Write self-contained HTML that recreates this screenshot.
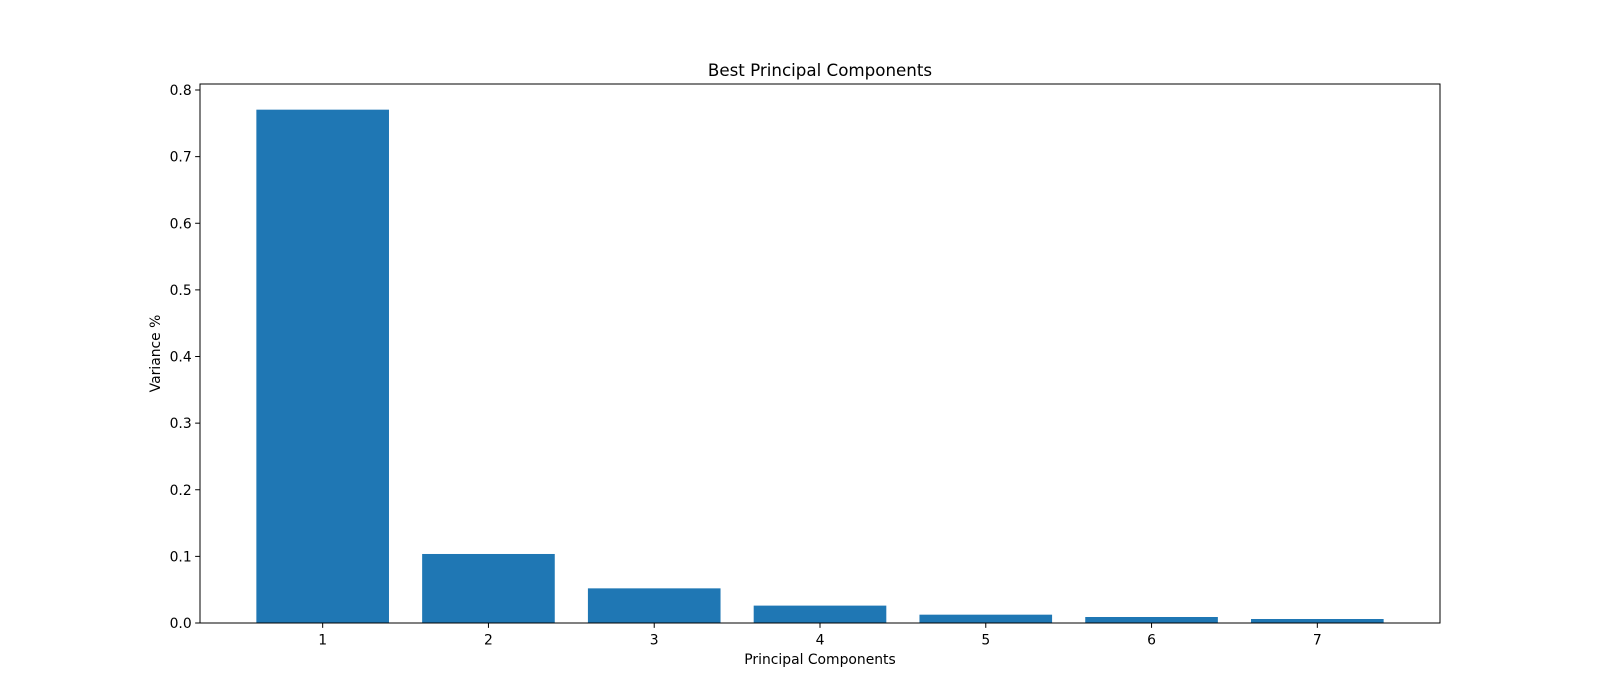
<!DOCTYPE html>
<html><head><meta charset="utf-8"><style>body{margin:0;background:#fff}svg{display:block}text{font-family:"DejaVu Sans","Liberation Sans",sans-serif;fill:#000}</style></head>
<body>
<svg id="chart" width="1600" height="700" xmlns="http://www.w3.org/2000/svg">
<rect width="1600" height="700" fill="#fff"/>
<g id="plot"></g>
</svg>
<script>
const categories = ["1","2","3","4","5","6","7"];
const values = [0.7705, 0.1036, 0.052, 0.0261, 0.0125, 0.009, 0.006];
const yTicks = [0.0,0.1,0.2,0.3,0.4,0.5,0.6,0.7,0.8];
const yTickLabels = ["0.0","0.1","0.2","0.3","0.4","0.5","0.6","0.7","0.8"];

const L=200,R=1440,T=84,B=623;
const n=categories.length;
const xmin=1-0.4-0.05*(n-1+0.8), xmax=n+0.4+0.05*(n-1+0.8);
const ymax=Math.max(...values)*1.05;
const xs=v=>L+(v-xmin)/(xmax-xmin)*(R-L);
const ys=v=>B-v/ymax*(B-T);
const NS="http://www.w3.org/2000/svg";
const g=document.getElementById('plot');
function mk(tag,attrs,txt){const e=document.createElementNS(NS,tag);for(const k in attrs)e.setAttribute(k,attrs[k]);if(txt!==undefined)e.textContent=txt;g.appendChild(e);return e;}

values.forEach((v,i)=>{
  const x0=xs(i+1-0.4),x1=xs(i+1+0.4);
  const r=mk('rect',{x:x0,y:ys(v),width:x1-x0,height:B-ys(v),fill:'#1f77b4'});
  
  
});
categories.forEach((c,i)=>{
  const x=xs(i+1);
  const t=mk('line',{x1:x,x2:x,y1:B,y2:B+4.86,stroke:'#000','stroke-width':1});
  
  
  const l=mk('text',{x:x,y:B+21.5,'text-anchor':'middle','font-size':'13.9px'},c);
  
  
});
yTicks.forEach((v,i)=>{
  const y=ys(v);
  const t=mk('line',{x1:L-4.86,x2:L,y1:y,y2:y,stroke:'#000','stroke-width':1});
  
  
  const l=mk('text',{x:L-8.3,y:y+5,'text-anchor':'end','font-size':'13.9px'},yTickLabels[i]);
  
  
});
const fr=mk('rect',{x:L,y:T,width:R-L,height:B-T,fill:'none',stroke:'#000','stroke-width':1});


const tt=mk('text',{x:(L+R)/2,y:T-8,'text-anchor':'middle','font-size':'16.7px'},'Best Principal Components');


const xl=mk('text',{x:(L+R)/2,y:B+41,'text-anchor':'middle','font-size':'13.9px'},'Principal Components');


const yl=mk('text',{x:0,y:0,'text-anchor':'middle','font-size':'13.9px',transform:'translate(160,'+((T+B)/2)+') rotate(-90)'},'Variance %');


</script>
</body></html>
